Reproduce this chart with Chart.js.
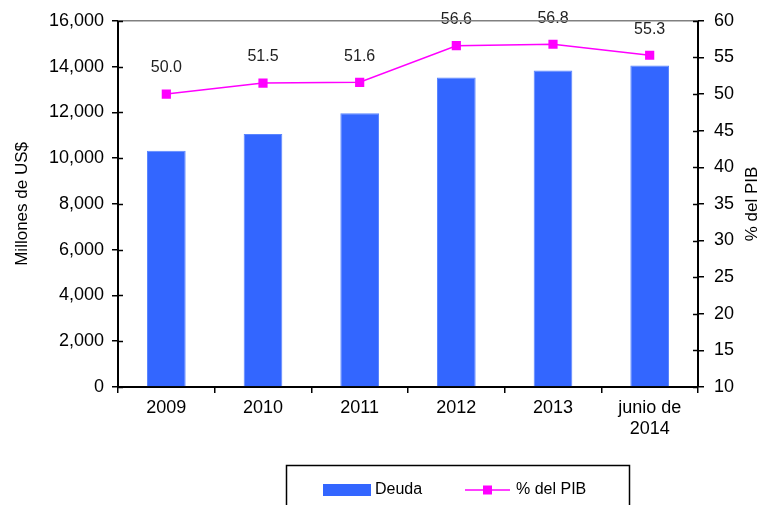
<!DOCTYPE html>
<html>
<head>
<meta charset="utf-8">
<script src="https://cdn.jsdelivr.net/npm/chart.js@4/dist/chart.umd.min.js"></script>
<style>
  body { margin: 0; background: #fff; }
  #wrap { width: 762px; height: 505px; }
</style>
</head>
<body>
<div id="wrap"><canvas id="myChart"></canvas></div>
<script>
const years = ["2009", "2010", "2011", "2012", "2013", ["junio de", "2014"]];
const deuda = [10320, 11050, 11960, 13520, 13830, 14050];
const pctPib = [50.0, 51.5, 51.6, 56.6, 56.8, 55.3];
const barColor = "#3366FF";
const lineColor = "#FF00FF";
const font = "'Liberation Sans', Arial, sans-serif";

// values above the line points
const pointLabels = {
    id: "pointLabels",
    afterDatasetsDraw(chart) {
        const ctx = chart.ctx;
        const meta = chart.getDatasetMeta(1);
        ctx.save();
        ctx.font = "16px " + font;
        ctx.fillStyle = "#222";
        ctx.textAlign = "center";
        ctx.textBaseline = "middle";
        meta.data.forEach((pt, i) => {
            ctx.fillText(pctPib[i].toFixed(1), pt.x, pt.y - 26);
        });
        ctx.restore();
    }
};

// frame bits, right title, legend box
const extras = {
    id: "extras",
    afterDraw(chart) {
        const ctx = chart.ctx;
        const a = chart.chartArea;
        ctx.save();
        // top border
        ctx.strokeStyle = "#808080";
        ctx.lineWidth = 1.5;
        ctx.beginPath();
        ctx.moveTo(a.left, a.top);
        ctx.lineTo(a.right, a.top);
        ctx.stroke();

        // inner tick stubs
        ctx.strokeStyle = "#000";
        ctx.lineWidth = 1.5;
        const yl = chart.scales.y, yr = chart.scales.y1;
        yl.ticks.forEach(t => {
            const p = Math.round(yl.getPixelForValue(t.value)) + 0.5;
            ctx.beginPath(); ctx.moveTo(a.left, p); ctx.lineTo(a.left + 5, p); ctx.stroke();
        });
        yr.ticks.forEach(t => {
            const p = Math.round(yr.getPixelForValue(t.value)) + 0.5;
            ctx.beginPath(); ctx.moveTo(a.right, p); ctx.lineTo(a.right - 5, p); ctx.stroke();
        });

        // right axis title, reading upward
        ctx.fillStyle = "#000";
        ctx.font = "17px " + font;
        ctx.textAlign = "center";
        ctx.textBaseline = "middle";
        ctx.translate(752, (a.top + a.bottom) / 2);
        ctx.rotate(-Math.PI / 2);
        ctx.fillText("% del PIB", 0, 0);
        ctx.setTransform(1, 0, 0, 1, 0, 0);

        // legend
        const ly = 490;
        ctx.strokeStyle = "#000";
        ctx.lineWidth = 1.5;
        ctx.strokeRect(286.5, 465.5, 343, 60);
        ctx.fillStyle = barColor;
        ctx.fillRect(323, ly - 6, 48, 12);
        ctx.fillStyle = "#000";
        ctx.font = "16px " + font;
        ctx.textAlign = "left";
        ctx.fillText("Deuda", 375, ly);
        ctx.strokeStyle = lineColor;
        ctx.lineWidth = 1.5;
        ctx.beginPath(); ctx.moveTo(465, ly); ctx.lineTo(510, ly); ctx.stroke();
        ctx.fillStyle = lineColor;
        ctx.fillRect(483, ly - 4.5, 9, 9);
        ctx.fillStyle = "#000";
        ctx.fillText("% del PIB", 516, ly);
        ctx.restore();
    }
};

new Chart("myChart", {
    type: "bar",
    data: {
        labels: years,
        datasets: [{
            label: "Deuda",
            data: deuda,
            backgroundColor: barColor,
            borderColor: "#5a85ff",
            borderWidth: 1,
            barPercentage: 0.4,
            categoryPercentage: 1,
            yAxisID: "y",
            order: 1
        }, {
            type: "line",
            label: "% del PIB",
            data: pctPib,
            borderColor: lineColor,
            backgroundColor: lineColor,
            borderWidth: 1.5,
            pointStyle: "rect",
            pointRadius: 6.5,
            pointBorderWidth: 0,
            yAxisID: "y1",
            order: 0
        }]
    },
    options: {
        responsive: true,
        maintainAspectRatio: false,
        animation: false,
        layout: { padding: { top: 16, bottom: 0, left: 0, right: 0 } },
        plugins: {
            legend: { display: false },
            tooltip: { enabled: false }
        },
        scales: {
            x: {
                grid: { display: true, drawOnChartArea: false, drawTicks: true, tickLength: 6, color: "#000", lineWidth: 1.5 },
                border: { color: "#000", width: 2 },
                ticks: { color: "#000", font: { family: font, size: 18 }, padding: 4, maxRotation: 0 },
                afterFit(s) { s.height = 118; }
            },
            y: {
                position: "left",
                min: 0, max: 16000,
                ticks: {
                    stepSize: 2000, color: "#000", padding: 8,
                    font: { family: font, size: 18 },
                    callback: v => v.toLocaleString("en-US")
                },
                grid: { drawOnChartArea: false, drawTicks: true, tickLength: 6, color: "#000", lineWidth: 1.5 },
                border: { color: "#000", width: 2 },
                title: {
                    display: true, text: "Millones de US$", color: "#000",
                    font: { family: font, size: 17 }, padding: { top: 12, bottom: 0 }
                },
                afterFit(s) { s.width = 118; }
            },
            y1: {
                position: "right",
                min: 10, max: 60,
                ticks: { stepSize: 5, color: "#000", padding: 10, font: { family: font, size: 18 } },
                grid: { drawOnChartArea: false, drawTicks: true, tickLength: 6, color: "#000", lineWidth: 1.5 },
                border: { color: "#000", width: 2 },
                afterFit(s) { s.width = 64; }
            }
        }
    },
    plugins: [pointLabels, extras]
});
</script>
</body>
</html>
